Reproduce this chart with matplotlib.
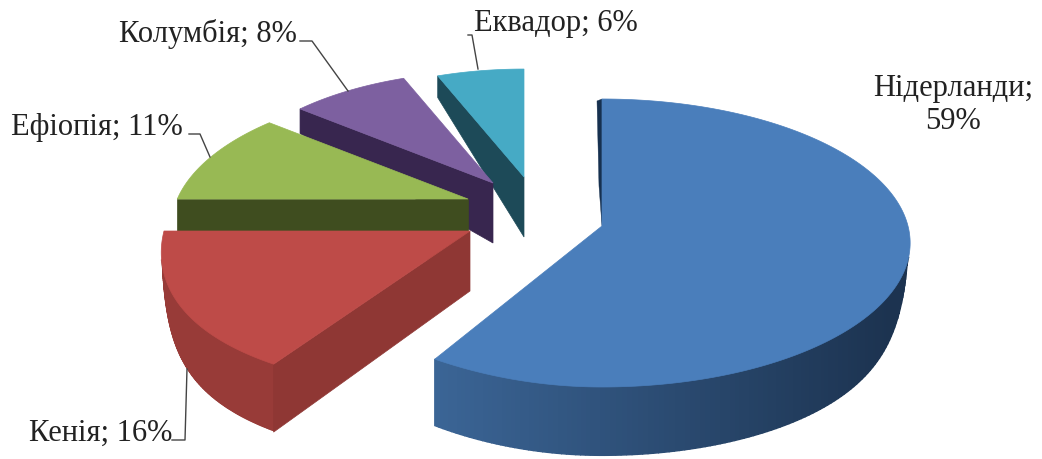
import numpy as np
import matplotlib
matplotlib.use('Agg')
import matplotlib.pyplot as plt

# slices, clockwise from 12 o'clock
countries = ['Нідерланди', 'Кенія', 'Ефіопія', 'Колумбія', 'Еквадор']
shares = [59, 16, 11, 8, 6]

# look of each slice
top_colors = ['#4a7ebb', '#be4b48', '#98b954', '#7d60a0', '#46aac5']
wall_colors = ['#2c4f78', '#8f3734', '#3f4d1f', '#38264f', '#1d4a58']
apexes = [(602, 227), (470, 232), (468, 200), (493, 184), (524, 178)]
scales = [1.0, 1.0, 0.95, 0.88, 0.85]
persp = [0.118, 0.118, 0.2, 0.118, 0.118]
front_x = [-0.115, 0.11, 0, 0, 0]

RX, RY = 306, 142

plt.rcParams['font.family'] = ['Liberation Serif', 'DejaVu Serif']

fig = plt.figure(figsize=(10.42, 4.6), dpi=100)
ax = fig.add_axes([0, 0, 1, 1])
ax.set_xlim(0, 1042)
ax.set_ylim(460, 0)
ax.axis('off')


def project(i, theta):
    u, v = np.sin(theta), -np.cos(theta)
    s = scales[i] / (1 - persp[i] * v)
    # left front part of the rim sits a bit off the plain perspective
    fx = 1 + front_x[i] * np.clip(v, 0, 1) ** 2 * (u < 0)
    return apexes[i][0] + RX * u * s * fx, apexes[i][1] + RY * v * s


def cut_depth(theta):
    v = -np.cos(theta)
    return np.interp(v, [-1, -0.6, 0, 0.85, 1], [21, 25, 60, 68, 68])


def rim_depth(theta):
    # the rim wall fades out towards the sides of the pie
    v = -np.cos(theta)
    return 70 * (1 - np.exp(-np.clip(v - 0.25, 0, 1) / 0.2))


def mix(c1, c2, t):
    a = np.array(matplotlib.colors.to_rgb(c1))
    b = np.array(matplotlib.colors.to_rgb(c2))
    return a + (b - a) * t


edges = np.radians(np.cumsum([0] + shares) * 3.6)

# back to front
for i in [4, 3, 2, 1, 0]:
    apex = apexes[i]
    th = np.linspace(edges[i], edges[i + 1], 240)
    xs, ys = project(i, th)
    ds = rim_depth(th)

    # outer wall, strips so the shade can run along it
    for k in range(len(th) - 1):
        if -np.cos(th[k]) < 0.2:
            continue
        if i == 0:
            col = mix('#1c3350', '#3b6596', np.clip((890 - xs[k]) / 455, 0, 1))
        else:
            col = mix('#8c3533', '#a4403d', 0.5)
        ax.fill([xs[k], xs[k + 1], xs[k + 1], xs[k]],
                [ys[k], ys[k + 1], ys[k + 1] + ds[k + 1], ys[k] + ds[k]],
                color=col, lw=1.0, zorder=i * -10 + 20)

    # cut face on the starting edge
    if i > 0:
        d0 = cut_depth(th[0])
        ax.fill([apex[0], xs[0], xs[0], apex[0]],
                [apex[1], ys[0], ys[0] + d0, apex[1] + 60],
                color=wall_colors[i], lw=0.5, zorder=i * -10 + 21)
    else:
        ax.fill([apex[0], xs[0], xs[0] - 5, apex[0] - 3],
                [apex[1], ys[0], ys[0] + 2, apex[1] - 40],
                color='#16304f', lw=0.3, zorder=19)

    ax.fill(np.r_[apex[0], xs], np.r_[apex[1], ys],
            color=top_colors[i], lw=0.5, zorder=i * -10 + 22)

# leader lines
leaders = [([468, 472, 478], [36, 36, 70]),
           ([300, 312, 348], [42, 42, 92]),
           ([189, 200, 210], [135, 135, 158]),
           ([172, 185, 187], [441, 441, 370])]
for lx, ly in leaders:
    ax.plot(lx, ly, color='#444444', lw=1.0, zorder=30)

# data labels
txt = dict(fontsize=22, color='#222222', zorder=31, va='center')
ax.text(953, 105, f'{countries[0]};\n{shares[0]}%', ha='center', linespacing=1.17, **txt)
ax.text(172, 433, f'{countries[1]}; {shares[1]}%', ha='right', **txt)
ax.text(183, 127, f'{countries[2]}; {shares[2]}%', ha='right', **txt)
ax.text(297, 34, f'{countries[3]}; {shares[3]}%', ha='right', **txt)
ax.text(474, 24, f'{countries[4]}; {shares[4]}%', ha='left', **txt)

fig.savefig('out.png', dpi=100)
